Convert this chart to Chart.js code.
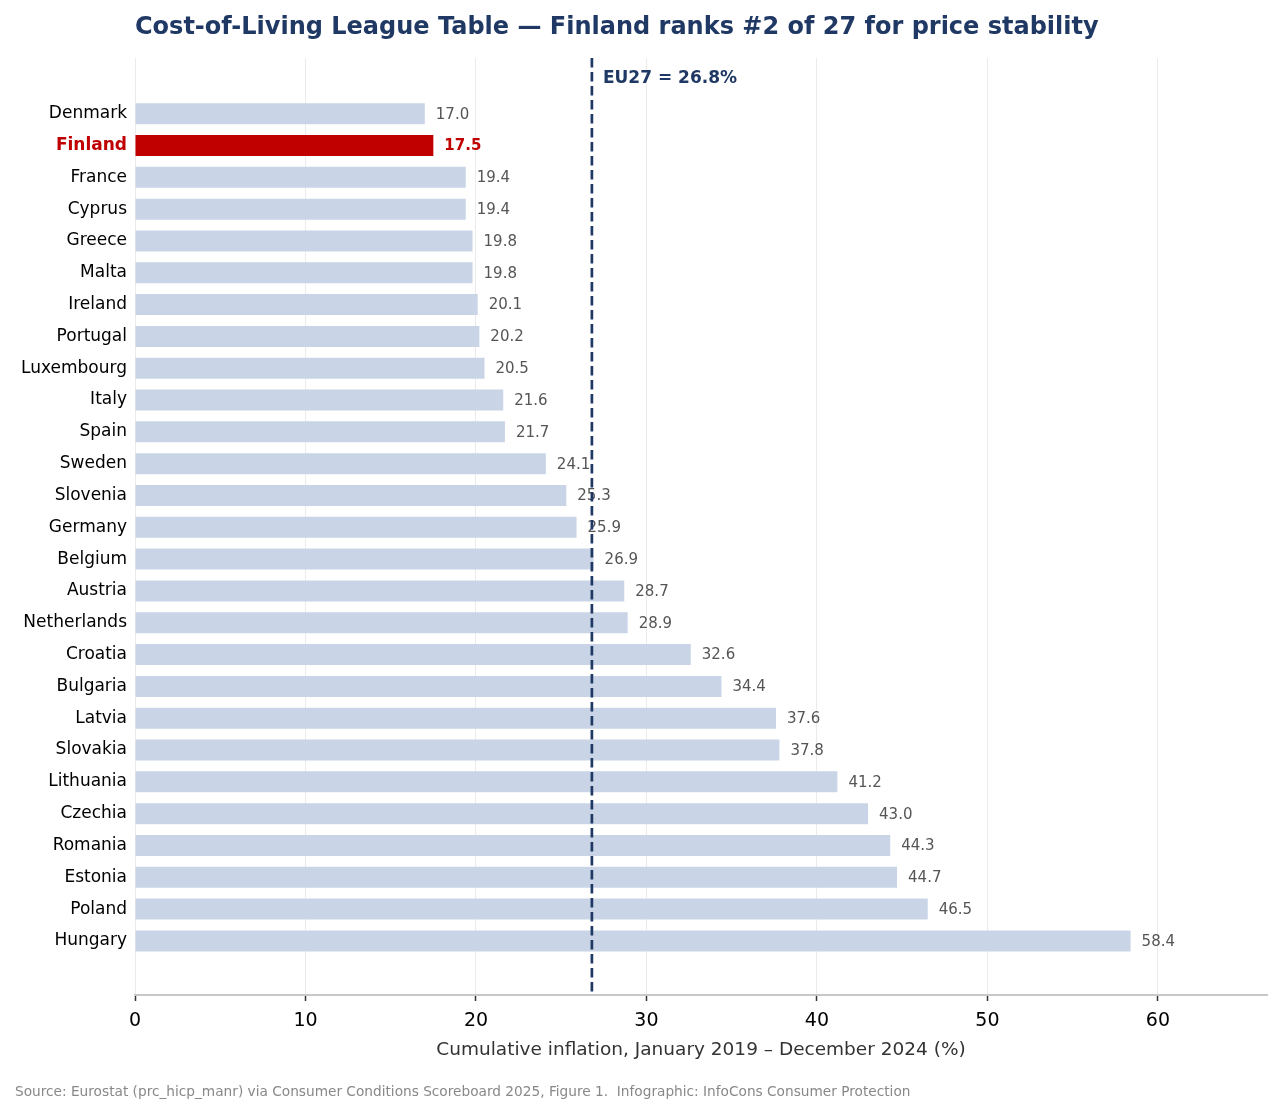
<!DOCTYPE html>
<html>
<head>
<meta charset="utf-8">
<script src="https://cdn.jsdelivr.net/npm/chart.js@4.4.1/dist/chart.umd.min.js"></script>
<style>
  html, body { margin: 0; padding: 0; background: #fff; }
  canvas { display: block; }
</style>
</head>
<body>
<canvas id="chart" width="1282" height="1115"></canvas>
<script>
const countries = ['Denmark', 'Finland', 'France', 'Cyprus', 'Greece', 'Malta', 'Ireland', 'Portugal',
  'Luxembourg', 'Italy', 'Spain', 'Sweden', 'Slovenia', 'Germany', 'Belgium', 'Austria', 'Netherlands',
  'Croatia', 'Bulgaria', 'Latvia', 'Slovakia', 'Lithuania', 'Czechia', 'Romania', 'Estonia', 'Poland', 'Hungary'];
const inflation = [17.0, 17.5, 19.4, 19.4, 19.8, 19.8, 20.1, 20.2, 20.5, 21.6, 21.7, 24.1, 25.3, 25.9,
  26.9, 28.7, 28.9, 32.6, 34.4, 37.6, 37.8, 41.2, 43.0, 44.3, 44.7, 46.5, 58.4];
const xTicks = [0, 10, 20, 30, 40, 50, 60];
const eu27 = 26.8;
const highlight = 'Finland';

const NAVY = '#1f3864';
const RED = '#c00000';
const FONT = "'DejaVu Sans', sans-serif";

const points = countries.map((c, i) => ({ x: inflation[i], y: i }));
const isHiTick = ctx => !!(ctx.tick && countries[ctx.tick.value] === highlight);

// extra drawing: title, EU line, value labels, source
const extras = {
  id: 'extras',
  afterDatasetsDraw(chart) {
    const { ctx, chartArea, scales } = chart;
    const meta = chart.getDatasetMeta(0);

    ctx.save();
    ctx.textBaseline = 'middle';
    ctx.textAlign = 'left';
    meta.data.forEach((bar, i) => {
      const isHi = countries[i] === highlight;
      ctx.font = (isHi ? 'bold ' : '') + '15px ' + FONT;
      ctx.fillStyle = isHi ? RED : '#555555';
      ctx.fillText(inflation[i].toFixed(1), bar.x + 11, bar.y + 1);
    });

    const xp = scales.x.getPixelForValue(eu27);
    ctx.strokeStyle = NAVY;
    ctx.lineWidth = 2.7;
    ctx.setLineDash([9.5, 4.5]);
    ctx.beginPath();
    ctx.moveTo(xp, chartArea.top);
    ctx.lineTo(xp, chartArea.bottom);
    ctx.stroke();
    ctx.setLineDash([]);

    ctx.font = 'bold 17px ' + FONT;
    ctx.fillStyle = NAVY;
    ctx.fillText('EU27 = ' + eu27 + '%', xp + 11, 79);
    ctx.restore();
  },
  afterDraw(chart) {
    const { ctx } = chart;
    ctx.save();
    ctx.textBaseline = 'middle';
    ctx.textAlign = 'left';
    ctx.font = 'bold 24px ' + FONT;
    ctx.fillStyle = NAVY;
    ctx.fillText('Cost-of-Living League Table \u2014 Finland ranks #2 of 27 for price stability', 135, 28);
    ctx.font = '13.7px ' + FONT;
    ctx.fillStyle = '#888888';
    ctx.fillText('Source: Eurostat (prc_hicp_manr) via Consumer Conditions Scoreboard 2025, Figure 1.  Infographic: InfoCons Consumer Protection', 15, 1092);
    ctx.restore();
  }
};

new Chart(document.getElementById('chart'), {
  type: 'bar',
  data: {
    datasets: [{
      data: points,
      backgroundColor: countries.map(c => c === highlight ? RED : '#c9d5e6'),
      barPercentage: 0.66,
      categoryPercentage: 1.0,
    }],
  },
  options: {
    indexAxis: 'y',
    responsive: false,
    animation: false,
    layout: { padding: { top: 58, right: 15, left: 0, bottom: 50 } },
    plugins: {
      legend: { display: false },
      tooltip: { enabled: false },
    },
    scales: {
      x: {
        type: 'linear',
        min: 0,
        max: 66.4,
        afterBuildTicks: axis => { axis.ticks = xTicks.map(v => ({ value: v })); },
        afterFit: axis => { axis.height = 70; },
        grid: { color: '#ebebeb', lineWidth: 1, tickLength: 6, tickColor: '#333333', tickWidth: 1.5 },
        border: { color: '#c8c8c8', width: 2 },
        ticks: { color: '#000', font: { family: FONT, size: 19 }, padding: 9 },
        title: {
          display: true,
          text: 'Cumulative inflation, January 2019 \u2013 December 2024 (%)',
          color: '#333333',
          font: { family: FONT, size: 18.5 },
          padding: { top: 2 },
        },
      },
      y: {
        type: 'linear',
        reverse: true,
        offset: false,
        min: -1.75,
        max: 27.7,
        afterBuildTicks: axis => { axis.ticks = countries.map((c, i) => ({ value: i })); },
        afterFit: axis => { axis.width = 135; },
        grid: { display: false, drawTicks: false },
        border: { display: false },
        ticks: {
          autoSkip: false,
          padding: 8,
          callback: v => countries[v],
          color: ctx => isHiTick(ctx) ? RED : '#000',
          font: ctx => ({ family: FONT, size: 17, weight: isHiTick(ctx) ? 'bold' : 'normal' }),
        },
      },
    },
  },
  plugins: [extras],
});
</script>
</body>
</html>
